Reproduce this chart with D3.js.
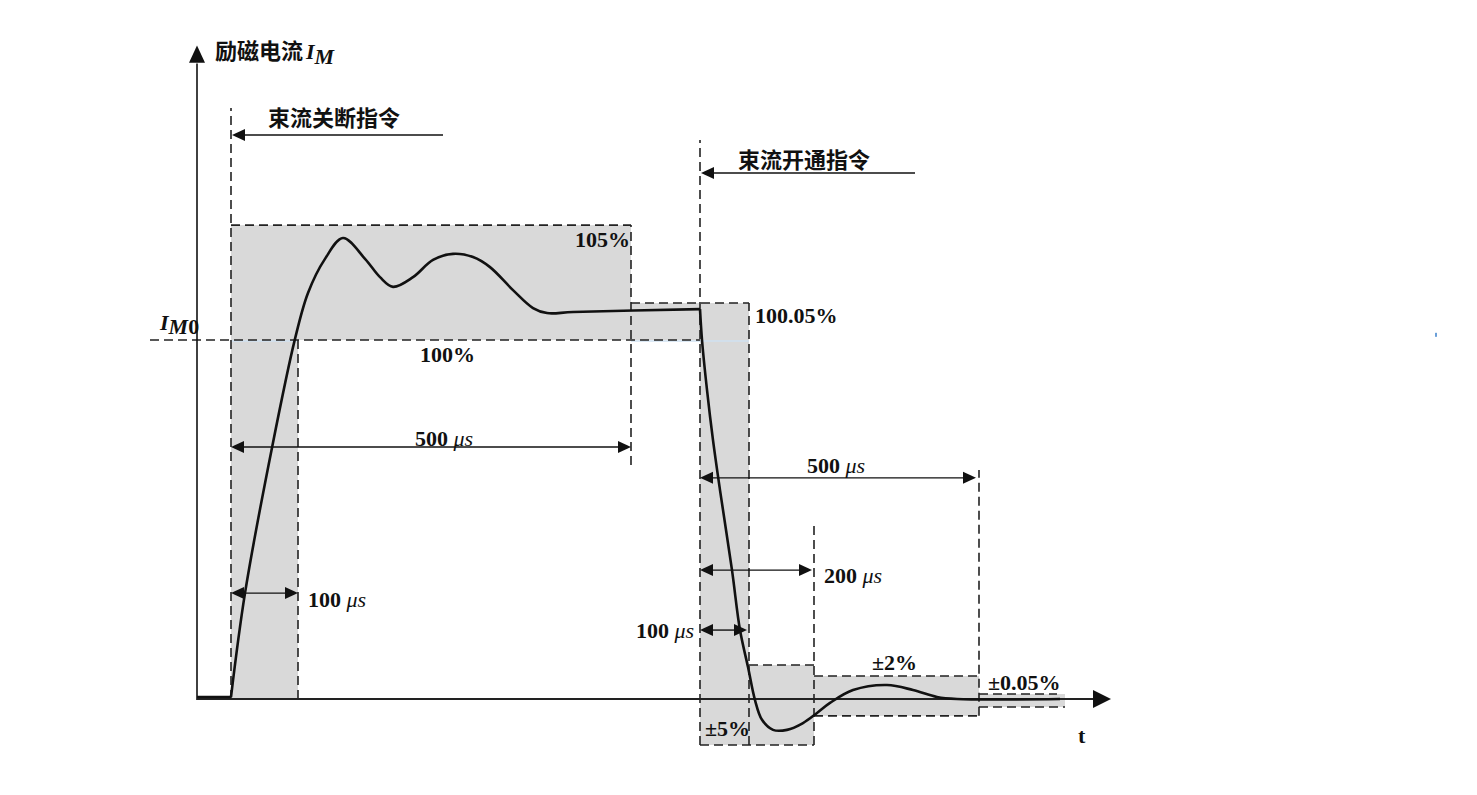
<!DOCTYPE html>
<html><head><meta charset="utf-8">
<script src="https://cdn.jsdelivr.net/npm/d3@7"></script>
<style>
html,body{margin:0;padding:0;background:#fff;}
svg{display:block;}
.num{font-family:"Liberation Serif","Times New Roman",serif;font-weight:bold;font-size:22px;fill:#111;}
.cjk{font-family:"Noto Sans CJK SC",sans-serif;font-weight:bold;font-size:22px;fill:#111;}
</style></head>
<body>
<script>
// ---- schematic data (time in schematic units, current in % of I_M0 on a schematic scale) ----
const curveFlat = [[-34,0.56],[0,0.56]];
const curveRise = [[0,0.56],[14,29.5],[41,70.0],[64,100.3],[77,113.1],[94,122.6],[112,128.4],[134,122.6],[149,117.5],[162,114.8],[182,117.5],[202,122.3],[222,124.0],[242,123.1],[259,120.3],[282,113.9],[302,108.9],[316,107.5],[342,107.8],[469,108.6]];
const curveFall = [[469,108.6],[471,100],[476,86.1],[482,72.1],[489,58.2],[501,35.9],[509,19.2],[517,8.9],[524,-0.3],[531,-5.8],[542,-8.6],[556,-8.6],[572,-6.7],[586,-3.9],[599,-1.1],[622,2.5],[656,3.9],[682,2.5],[706,0.56],[726,0],[829,0]];
// shaded tolerance bands: [t0, t1, low, high]
const bands = [[0,400,100,132],[0,67,0,100],[400,518,100,110.3],[469,518,-12.8,100],[518,583,-12.8,9.47],[583,748,-4.7,6.4],[748,834,-2.23,1.39]];
// dashed vertical guides: [t, v0, v1]
const vGuides = [[0,0,164.6],[67,0,100],[400,65.2,132],[469,-12.8,155.7],[518,-12.8,110.3],[583,-12.8,49.3],[748,-4.7,63.8]];
// dashed horizontal guides: [v, t0, t1]
const hGuides = [[132,0,400],[110.3,400,518],[100,-81,469],[-12.8,469,583],[9.47,518,583],[6.4,583,748],[-4.7,583,748],[1.39,748,826],[-2.23,748,834]];
// dimension arrows: [t0, t1, v]
const dimArrows = [[0,400,70.2],[0,67,29.5],[469,745,61.6],[469,581,35.9],[469,516,19.2]];
// command arrows: [tHead, tTail, v, label, labelT, labelV]
const cmdArrows = [[0,212,157.1,"束流关断指令",37,159.5],[469,684,146.5,"束流开通指令",507,148]];
// percentage labels: [text, t, v, anchor]
const pctLabels = [["105%",399,125.9,"end"],["100.05%",524,104.7,"start"],["100%",189,93.9,"start"],["±2%",641,8.1,"start"],["±0.05%",757,2.5,"start"],["±5%",474,-10.3,"start"]];
// duration labels: [value, t, v, anchor]
const durLabels = [["500",184,70.5,"start"],["100",77,25.6,"start"],["500",576,63.0,"start"],["200",593,32.3,"start"],["100",463,17.0,"end"]];

const W = 1477, H = 795;
const x = d3.scaleLinear().domain([-34, 880]).range([197, 1111]);
const y = d3.scaleLinear().domain([0, 100]).range([699, 340]);

const svg = d3.select("body").append("svg").attr("width", W).attr("height", H);

// bands
svg.append("g").selectAll("rect").data(bands).join("rect")
  .attr("x", d => x(d[0])).attr("width", d => x(d[1]) - x(d[0]))
  .attr("y", d => y(d[3])).attr("height", d => y(d[2]) - y(d[3]))
  .attr("fill", "#d9d9d9");

// faint bluish edge at the 100% line inside shading
svg.append("g").selectAll("line").data([[0,67],[400,518]]).join("line")
  .attr("x1", d => x(d[0])).attr("x2", d => x(d[1]))
  .attr("y1", y(100)+1).attr("y2", y(100)+1)
  .attr("stroke", "#cfe0f0").attr("stroke-width", 1.5);

const dash = "9,5";
svg.append("g").selectAll("line").data(vGuides).join("line")
  .attr("x1", d => x(d[0])).attr("x2", d => x(d[0]))
  .attr("y1", d => y(d[1])).attr("y2", d => y(d[2]))
  .attr("stroke", "#222").attr("stroke-width", 1.6).attr("stroke-dasharray", dash);
svg.append("g").selectAll("line").data(hGuides).join("line")
  .attr("x1", d => x(d[1])).attr("x2", d => x(d[2]))
  .attr("y1", d => y(d[0])).attr("y2", d => y(d[0]))
  .attr("stroke", "#222").attr("stroke-width", 1.6).attr("stroke-dasharray", dash);

// axes
const ax = svg.append("g");
ax.append("line").attr("x1", x(-34)).attr("x2", x(-34)).attr("y1", y(0)+1).attr("y2", y(177)).attr("stroke", "#111").attr("stroke-width", 1.6);
ax.append("path").attr("d", `M${x(-34)},${y(182)} L${x(-34)-8},${y(177.2)} L${x(-34)+8},${y(177.2)} Z`).attr("fill", "#111");
ax.append("line").attr("x1", x(-34)).attr("x2", x(862)).attr("y1", y(0)).attr("y2", y(0)).attr("stroke", "#222").attr("stroke-width", 2);
ax.append("path").attr("d", `M${x(880)},${y(0)} L${x(862)},${y(0)-9} L${x(862)},${y(0)+9} Z`).attr("fill", "#111");

// curve
const line = d3.line().x(d => x(d[0])).y(d => y(d[1])).curve(d3.curveCatmullRom.alpha(0.5));
[curveFlat, curveRise, curveFall].forEach(c => {
  svg.append("path").attr("d", line(c)).attr("fill", "none").attr("stroke", "#111").attr("stroke-width", 2.6).attr("stroke-linejoin", "round");
});

function head(px, py, dir, len, hw) {
  return `M${px},${py} L${px - dir*len},${py-hw} L${px - dir*len},${py+hw} Z`;
}
// dimension arrows
const dg = svg.append("g");
dimArrows.forEach(d => {
  const x0 = x(d[0]), x1 = x(d[1]), yy = y(d[2]);
  dg.append("line").attr("x1", x0+10).attr("x2", x1-10).attr("y1", yy).attr("y2", yy).attr("stroke", "#111").attr("stroke-width", 1.4);
  dg.append("path").attr("d", head(x0, yy, -1, 13, 6)).attr("fill", "#111");
  dg.append("path").attr("d", head(x1, yy, 1, 13, 6)).attr("fill", "#111");
});
// command arrows
cmdArrows.forEach(d => {
  const xh = x(d[0]), xt = x(d[1]), yy = y(d[2]);
  dg.append("line").attr("x1", xh+10).attr("x2", xt).attr("y1", yy).attr("y2", yy).attr("stroke", "#111").attr("stroke-width", 1.4);
  dg.append("path").attr("d", head(xh+1, yy, -1, 13, 6)).attr("fill", "#111");
  svg.append("text").attr("class", "cjk").attr("x", x(d[4])).attr("y", y(d[5])).attr("font-size", 23).text(d[3]);
});

// labels
svg.append("g").selectAll("text").data(pctLabels).join("text")
  .attr("class", "num").attr("x", d => x(d[1])).attr("y", d => y(d[2]))
  .attr("text-anchor", d => d[3]).text(d => d[0]);

const dl = svg.append("g").selectAll("text").data(durLabels).join("text")
  .attr("class", "num").attr("x", d => x(d[1])).attr("y", d => y(d[2]))
  .attr("text-anchor", d => d[3]);
dl.append("tspan").text(d => d[0] + " ");
dl.append("tspan").attr("font-style", "italic").attr("font-weight", "normal").text("μs");

// axis label
const yl = svg.append("text").attr("x", x(-16)).attr("y", y(178.2));
yl.append("tspan").attr("class", "cjk").attr("font-size", 23).text("励磁电流");
yl.append("tspan").attr("class", "num").attr("font-style", "italic").attr("font-size", 24).attr("dx", 3).text("I");
yl.append("tspan").attr("class", "num").attr("font-style", "italic").attr("font-size", 14).attr("dy", 5).text("M");

// I_M0
const im = svg.append("text").attr("x", x(-71)).attr("y", y(102.8));
im.append("tspan").attr("class", "num").attr("font-style", "italic").attr("font-size", 25).text("I");
im.append("tspan").attr("class", "num").attr("font-style", "italic").attr("font-size", 14).attr("dy", 4).text("M");
im.append("tspan").attr("class", "num").attr("font-size", 14).text("0");

// t label
svg.append("text").attr("class", "num").attr("x", x(847)).attr("y", y(-12.3)).attr("font-size", 25).text("t");

// stray mark in reference
svg.append("rect").attr("x", x(1204)).attr("y", y(102)).attr("width", 2).attr("height", 4).attr("fill", "#6a9fd8");
</script>
</body></html>
